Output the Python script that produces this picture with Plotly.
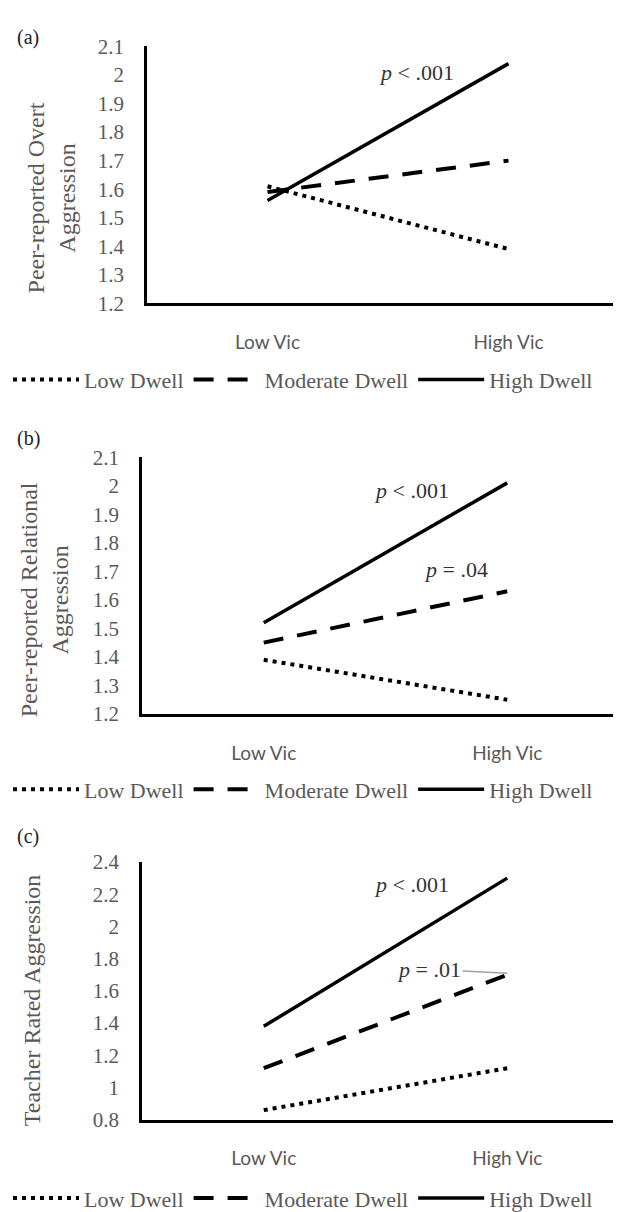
import plotly.graph_objects as go

categories = ["Low Vic", "High Vic"]
series_names = ["Low Dwell", "Moderate Dwell", "High Dwell"]

# Panel (a): Peer-reported Overt Aggression
a_low = [1.61, 1.39]
a_mod = [1.59, 1.70]
a_high = [1.56, 2.04]
# Panel (b): Peer-reported Relational Aggression
b_low = [1.39, 1.25]
b_mod = [1.45, 1.63]
b_high = [1.52, 2.01]
# Panel (c): Teacher Rated Aggression
c_low = [0.86, 1.12]
c_mod = [1.12, 1.70]
c_high = [1.38, 2.30]

a_ticks = [1.2, 1.3, 1.4, 1.5, 1.6, 1.7, 1.8, 1.9, 2.0, 2.1]
b_ticks = [1.2, 1.3, 1.4, 1.5, 1.6, 1.7, 1.8, 1.9, 2.0, 2.1]
c_ticks = [0.8, 1.0, 1.2, 1.4, 1.6, 1.8, 2.0, 2.2, 2.4]

W, H = 621, 1212
SERIF = "Liberation Serif, Times New Roman, serif"
SANS = "Lato, Open Sans, sans-serif"
GRAY = "#595959"

def py(px):
    return 1 - px / H

styles = [
    dict(color="black", width=4, dash="4px,5px"),
    dict(color="black", width=4, dash="20px,14px"),
    dict(color="black", width=3.5, dash="solid"),
]

fig = go.Figure()
panels = [
    ("", [a_low, a_mod, a_high], "legend"),
    ("2", [b_low, b_mod, b_high], "legend2"),
    ("3", [c_low, c_mod, c_high], "legend3"),
]
for suffix, vals, leg in panels:
    for name, v, st in zip(series_names, vals, styles):
        fig.add_trace(go.Scatter(
            x=categories, y=v, name=name, mode="lines",
            line=st, xaxis="x" + suffix, yaxis="y" + suffix, legend=leg,
            hoverinfo="skip",
        ))

def xax(left, anchor):
    return dict(domain=[left / W, 1], anchor=anchor, type="category",
                range=[-0.5, 1.5], showline=True, linecolor="black", linewidth=2.5,
                showgrid=False, zeroline=False, ticks="", ticklabelstandoff=20,
                tickfont=dict(family=SANS, size=19, color=GRAY))

def yax(top, bottom, rng, tv, anchor):
    return dict(domain=[py(bottom), py(top)], anchor=anchor, range=rng,
                tickvals=tv, showline=True, linecolor="black", linewidth=2.5,
                showgrid=False, zeroline=False, ticks="", ticklabelstandoff=16,
                tickfont=dict(family=SERIF, size=21, color=GRAY))

leg_common = dict(orientation="h", x=0, xanchor="left", yanchor="middle",
                  font=dict(family=SERIF, size=22, color=GRAY),
                  itemwidth=66, bgcolor="rgba(0,0,0,0)", tracegroupgap=0)

fig.update_layout(
    width=W, height=H, autosize=False,
    margin=dict(l=0, r=0, t=0, b=0),
    paper_bgcolor="white", plot_bgcolor="white",
    xaxis=xax(139, "y"),
    yaxis=yax(27, 289, [1.2, 2.1001], a_ticks, "x"),
    xaxis2=xax(134, "y2"),
    yaxis2=yax(446, 708, [1.2, 2.1001], b_ticks, "x2"),
    xaxis3=xax(134, "y3"),
    yaxis3=yax(859, 1122, [0.8, 2.4001], c_ticks, "x3"),
    legend=dict(leg_common, y=py(367)),
    legend2=dict(leg_common, y=py(785)),
    legend3=dict(leg_common, y=py(1202)),
)

ann = []
# panel letters
for lab, ypx in [("(a)", 18), ("(b)", 427), ("(c)", 833)]:
    ann.append(dict(text=lab, x=20 / W, y=py(ypx), xref="paper", yref="paper",
                    xanchor="center", yanchor="middle", showarrow=False,
                    font=dict(family=SERIF, size=20, color="#222")))
# axis titles
tfont = dict(family=SERIF, size=24, color=GRAY)
ann.append(dict(text="Peer-reported Overt<br>Aggression", x=43 / W, y=py(182),
                xref="paper", yref="paper", textangle=-90, showarrow=False,
                xanchor="center", yanchor="middle", font=tfont))
ann.append(dict(text="Peer-reported Relational<br>Aggression", x=36 / W, y=py(592),
                xref="paper", yref="paper", textangle=-90, showarrow=False,
                xanchor="center", yanchor="middle", font=tfont))
ann.append(dict(text="Teacher Rated Aggression", x=24 / W, y=py(1000),
                xref="paper", yref="paper", textangle=-90, showarrow=False,
                xanchor="center", yanchor="middle", font=tfont))
# p-values
pfont = dict(family=SERIF, size=22, color="#333")
ann.append(dict(text="<i>p</i> < .001", x=0.62, y=2.01, xref="x", yref="y",
                showarrow=False, font=pfont))
ann.append(dict(text="<i>p</i> < .001", x=0.605, y=1.983, xref="x2", yref="y2",
                showarrow=False, font=pfont))
ann.append(dict(text="<i>p</i> = .04", x=0.79, y=1.708, xref="x2", yref="y2",
                showarrow=False, font=pfont))
ann.append(dict(text="<i>p</i> < .001", x=0.605, y=2.26, xref="x3", yref="y3",
                showarrow=False, font=pfont))
ann.append(dict(text="<i>p</i> = .01", x=1, y=1.71, xref="x3", yref="y3",
                showarrow=True, arrowhead=0, arrowwidth=1.5, arrowcolor="#a0a0a0",
                ax=-78, ay=-4, font=pfont))
fig.update_layout(annotations=ann)

fig.write_html("out.html")
